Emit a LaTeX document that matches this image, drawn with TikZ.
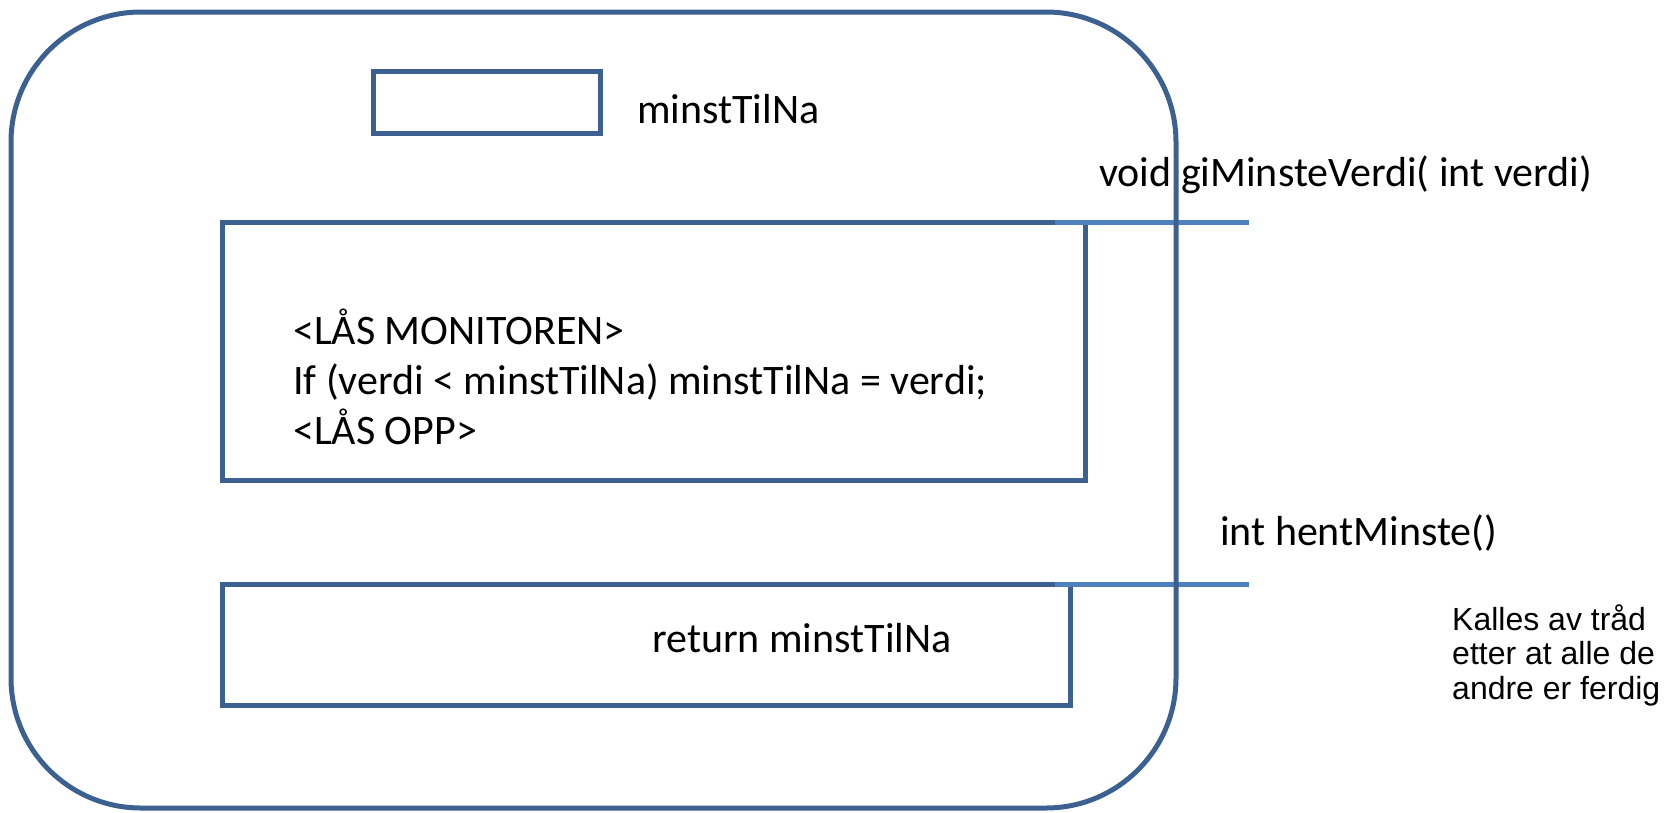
\documentclass[tikz,border=0pt]{standalone}
\usepackage{fontspec}
\setmainfont{Carlito}
\newfontfamily\arialfont{Liberation Sans}
\usetikzlibrary{positioning}
\definecolor{boxblue}{HTML}{3C6090}
\definecolor{portblue}{HTML}{4F81BD}
\tikzset{
  box/.style={draw=boxblue, line width=5pt, inner sep=0pt, outer sep=0pt},
  port/.style={draw=portblue, line width=5pt},
  code/.style={anchor=west, inner sep=0pt, align=left, font=\fontsize{42}{50}\selectfont},
}
\begin{document}
\begin{tikzpicture}[x=1pt,y=-1pt]
\useasboundingbox (0,0) rectangle (1671,812);
% variabel
\node[box, minimum width=227pt, minimum height=62pt] (verdi) at (486.5,102) {};
\node[code] (varname) at (637,109) {minstTilNa};
% metodene
\node[box, minimum width=863pt, minimum height=258pt] (lockbox) at (653.5,351) {};
\node[code] (lockcode) at (293,377) {<LÅS MONITOREN>\\If (verdi < minstTilNa) minstTilNa = verdi;\\<LÅS OPP>};
\node[box, minimum width=848pt, minimum height=121pt] (getbox) at (646,644.5) {};
\node[code] (getcode) at (652,638) {return minstTilNa};
% inngangene
\coordinate (giend) at ([xshift=164pt]lockbox.north east);
\coordinate (hentend) at ([xshift=179pt]getbox.north east);
\draw[port] ([xshift=-30pt]lockbox.north east) -- (giend);
\draw[port] ([xshift=-15pt]getbox.north east) -- (hentend);
\node[code, anchor=base west] (gisig) at (1099,186) {void giMinsteVerdi( int verdi)};
\node[code, anchor=base west] (hentsig) at (1220,545) {int hentMinste()};
\node[anchor=west, inner sep=0pt, align=left, font=\arialfont\fontsize{32}{34.5}\selectfont] (kalles) at (1452,655) {Kalles av tråd\\etter at alle de\\andre er ferdig};
% monitoren
\node[box, rounded corners=130pt, minimum width=1165pt, minimum height=796pt] (monitor) at (593.5,410) {};
\end{tikzpicture}
\end{document}
